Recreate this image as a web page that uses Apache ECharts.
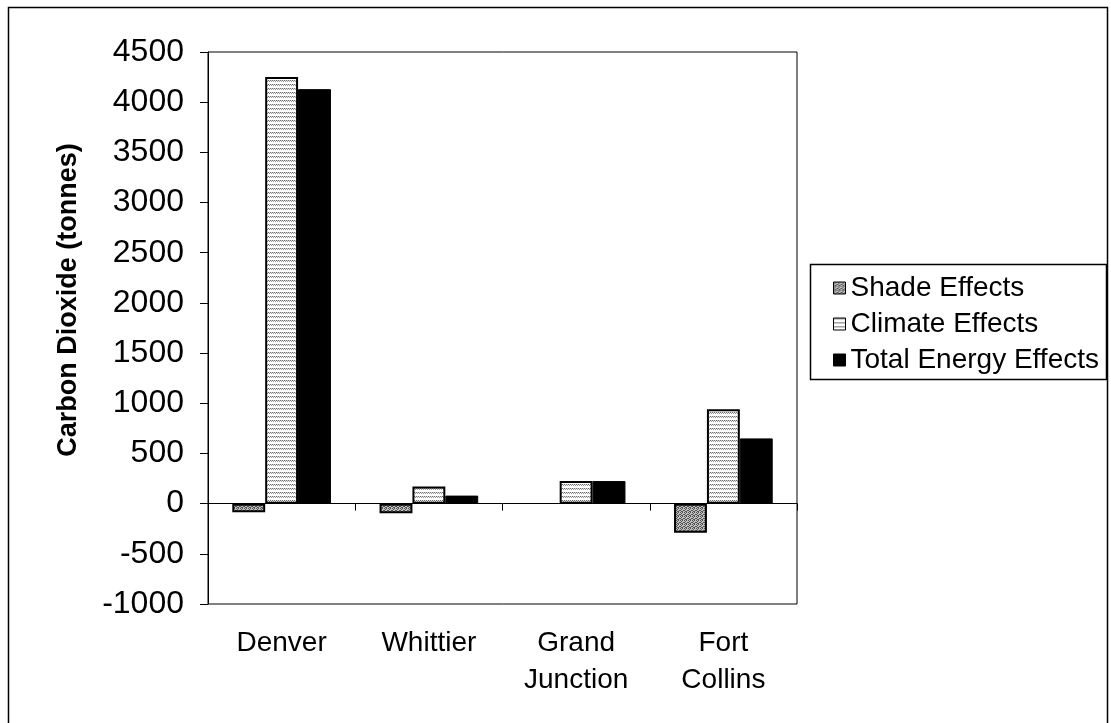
<!DOCTYPE html>
<html>
<head>
<meta charset="utf-8">
<script src="https://cdn.jsdelivr.net/npm/echarts@6/dist/echarts.min.js"></script>
<style>
html,body{margin:0;padding:0;background:#fff;}
#chart{width:1111px;height:723px;}
</style>
</head>
<body>
<div id="chart"></div>
<script>
// ---- data ----
var categories = ['Denver', 'Whittier', 'Grand\nJunction', 'Fort\nCollins'];
var seriesNames = ['Shade Effects', 'Climate Effects', 'Total Energy Effects'];
var shadeEffects = [-85, -95, 0, -290];
var climateEffects = [4250, 170, 225, 940];
var totalEnergyEffects = [4130, 80, 225, 650];
var yMin = -1000, yMax = 4500, yStep = 500;

// zero values are not drawn as bars in the reference
function noZero(arr) { return arr.map(function (v) { return v === 0 ? '-' : v; }); }

// ---- fill patterns ----
function makePattern(kind) {
  var c = document.createElement('canvas');
  var ctx = c.getContext('2d');
  if (kind === 'stipple') {
    c.width = 4; c.height = 4;
    ctx.fillStyle = '#bdbdbd'; ctx.fillRect(0, 0, 4, 4);
    ctx.fillStyle = '#555555';
    ctx.fillRect(0, 0, 1, 1); ctx.fillRect(2, 0, 1, 1);
    ctx.fillRect(1, 1, 1, 1); ctx.fillRect(3, 2, 1, 1);
    ctx.fillRect(0, 2, 1, 1); ctx.fillRect(2, 3, 1, 1);
    ctx.fillRect(1, 3, 1, 1);
  } else {
    c.width = 4; c.height = 4;
    ctx.fillStyle = '#ffffff'; ctx.fillRect(0, 0, 4, 4);
    ctx.fillStyle = '#6e6e6e';
    ctx.fillRect(0, 0, 1, 1); ctx.fillRect(2, 0, 1, 1);
    ctx.fillStyle = '#9a9a9a';
    ctx.fillRect(1, 1, 1, 1); ctx.fillRect(3, 1, 1, 1);
    ctx.fillStyle = '#dcdcdc';
    ctx.fillRect(1, 0, 1, 1); ctx.fillRect(3, 0, 1, 1);
  }
  return { image: c, repeat: 'repeat' };
}

var FONT = 'Liberation Sans, Arial, sans-serif';
var chart = echarts.init(document.getElementById('chart'), null, { renderer: 'canvas' });

var option = {
  backgroundColor: '#ffffff',
  animation: false,
  grid: {
    left: 208, top: 52, width: 589, height: 552,
    show: true, borderColor: '#000', borderWidth: 1, backgroundColor: 'transparent'
  },
  legend: {
    orient: 'vertical',
    left: 828, top: 267,
    itemWidth: 12, itemHeight: 12, itemGap: 4,
    icon: 'rect',
    data: seriesNames,
    textStyle: { fontFamily: FONT, fontSize: 28, color: '#000', lineHeight: 32 },
    itemStyle: { borderColor: '#000', borderWidth: 1 }
  },
  xAxis: [
    {
      type: 'category', data: categories,
      axisLine: { onZero: true, lineStyle: { color: '#000', width: 1 } },
      axisTick: { show: true, length: 7, lineStyle: { color: '#000' } },
      axisLabel: { show: false },
      splitLine: { show: false }
    },
    {
      type: 'category', data: categories, position: 'bottom',
      axisLine: { show: false, onZero: false },
      axisTick: { show: false },
      axisLabel: { show: true, margin: 21, fontFamily: FONT, fontSize: 28, color: '#000', lineHeight: 37 },
      splitLine: { show: false }
    }
  ],
  yAxis: {
    type: 'value', min: yMin, max: yMax, interval: yStep,
    name: 'Carbon Dioxide (tonnes)',
    nameLocation: 'middle', nameRotate: 90, nameGap: 126,
    nameTextStyle: { fontFamily: FONT, fontSize: 27, fontWeight: 'bold', color: '#000', padding: [0, 0, 0, 56] },
    axisLine: { show: true, lineStyle: { color: '#000', width: 1 } },
    axisTick: { show: true, inside: false, length: 8, lineStyle: { color: '#000' } },
    axisLabel: {
      margin: 24, fontFamily: FONT, fontSize: 32, color: '#000',
      formatter: function (v) { return String(v); }
    },
    splitLine: { show: false }
  },
  graphic: [
    { type: 'rect', left: 6, top: 5, shape: { width: 1099, height: 730 }, style: { fill: 'none', stroke: '#000', lineWidth: 1.5 }, z: 0, silent: true },
    { type: 'rect', left: 808, top: 262, shape: { width: 296, height: 115 }, style: { fill: 'none', stroke: '#000', lineWidth: 1.5 }, z: 0, silent: true }
  ],
  series: [
    {
      name: seriesNames[0], type: 'bar', data: noZero(shadeEffects), xAxisIndex: 0,
      barGap: '0%', barCategoryGap: '33%',
      itemStyle: { color: makePattern('stipple'), borderColor: '#000', borderWidth: 2 }
    },
    {
      name: seriesNames[1], type: 'bar', data: noZero(climateEffects), xAxisIndex: 0,
      barGap: '0%', barCategoryGap: '33%',
      itemStyle: { color: makePattern('stripes'), borderColor: '#000', borderWidth: 2 }
    },
    {
      name: seriesNames[2], type: 'bar', data: noZero(totalEnergyEffects), xAxisIndex: 0,
      barGap: '0%', barCategoryGap: '33%',
      itemStyle: { color: '#000', borderColor: '#000', borderWidth: 1 }
    }
  ]
};
chart.setOption(option);
</script>
</body>
</html>
